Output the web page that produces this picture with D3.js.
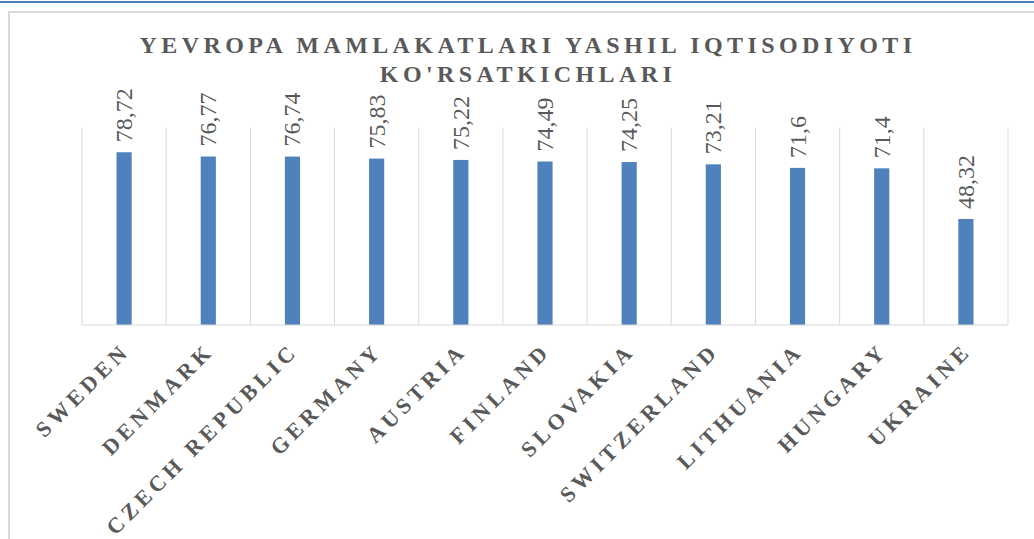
<!DOCTYPE html>
<html>
<head>
<meta charset="utf-8">
<script src="https://cdn.jsdelivr.net/npm/d3@7"></script>
<style>
  body { margin: 0; background: #fff; }
  svg { display: block; }
</style>
</head>
<body>
<div id="chart"></div>
<script>
// chart data
let countries = ["SWEDEN", "DENMARK", "CZECH REPUBLIC", "GERMANY", "AUSTRIA", "FINLAND",
                 "SLOVAKIA", "SWITZERLAND", "LITHUANIA", "HUNGARY", "UKRAINE"];
let scores = [78.72, 76.77, 76.74, 75.83, 75.22, 74.49, 74.25, 73.21, 71.6, 71.4, 48.32];
let scoreLabels = ["78,72", "76,77", "76,74", "75,83", "75,22", "74,49", "74,25", "73,21", "71,6", "71,4", "48,32"];
let titleLines = ["YEVROPA MAMLAKATLARI YASHIL IQTISODIYOTI", "KO'RSATKICHLARI"];

let W = 1034, H = 539;
let plotL = 82, plotR = 1008, plotT = 127.5, plotB = 325;
let grey = "#595959";
let serif = "Liberation Serif, Times New Roman, serif";

let svg = d3.select("#chart").append("svg")
    .attr("width", W)
    .attr("height", H);

// outer frame: blue top rule + grey chart border
svg.append("line")
    .attr("x1", 0).attr("x2", W).attr("y1", 2).attr("y2", 2)
    .attr("stroke", "#4a7ebb").attr("stroke-width", 2);
svg.append("path")
    .attr("d", "M9," + H + " L9,12 L" + W + ",12")
    .attr("fill", "none").attr("stroke", "#d9d9d9").attr("stroke-width", 2);

let x = d3.scaleBand().domain(countries).range([plotL, plotR]).padding(0);
let y = d3.scaleLinear().domain([0, 90]).range([plotB, plotT]);
let barW = x.bandwidth() * 0.18;

// vertical gridlines at category boundaries
let bounds = countries.map(function(d) { return x(d); }).concat([plotR]);
svg.append("g").selectAll("line")
    .data(bounds)
    .enter().append("line")
      .attr("x1", function(d) { return d; })
      .attr("x2", function(d) { return d; })
      .attr("y1", plotT).attr("y2", plotB)
      .attr("stroke", "#d9d9d9").attr("stroke-width", 1);

// bars
svg.append("g").selectAll("rect")
    .data(scores)
    .enter().append("rect")
      .attr("x", function(d, i) { return x(countries[i]) + x.bandwidth() / 2 - barW / 2; })
      .attr("y", function(d) { return y(d); })
      .attr("width", barW)
      .attr("height", function(d) { return y(0) - y(d); })
      .attr("fill", "#4f81bd");

// value labels (rotated)
svg.append("g").selectAll("text")
    .data(scores)
    .enter().append("text")
      .attr("transform", function(d, i) {
        let cx = x(countries[i]) + x.bandwidth() / 2 + 8;
        return "translate(" + cx + "," + (y(d) - 10) + ") rotate(-90)";
      })
      .attr("text-anchor", "start")
      .attr("font-family", serif)
      .attr("font-size", 24)
      .attr("fill", grey)
      .text(function(d, i) { return scoreLabels[i]; });

// category axis
let xAxis = svg.append("g")
    .attr("transform", "translate(0," + plotB + ")")
    .call(d3.axisBottom(x).tickSize(0));
xAxis.attr("font-family", serif).attr("font-size", 22);
xAxis.select(".domain").attr("stroke", "#d9d9d9").attr("d", "M" + plotL + ",0H" + plotR);
xAxis.selectAll("text")
    .attr("x", 0).attr("y", 0).attr("dy", null)
    .attr("transform", "translate(7,27) rotate(-45)")
    .attr("text-anchor", "end")
    .attr("font-weight", "bold")
    .attr("letter-spacing", 4.5)
    .attr("fill", grey);

// title
svg.append("g").selectAll("text")
    .data(titleLines)
    .enter().append("text")
      .attr("x", 528)
      .attr("y", function(d, i) { return 53 + i * 29; })
      .attr("text-anchor", "middle")
      .attr("font-family", serif)
      .attr("font-size", 24)
      .attr("font-weight", "bold")
      .attr("letter-spacing", 4.4)
      .attr("fill", grey)
      .text(function(d) { return d; });
</script>
</body>
</html>
